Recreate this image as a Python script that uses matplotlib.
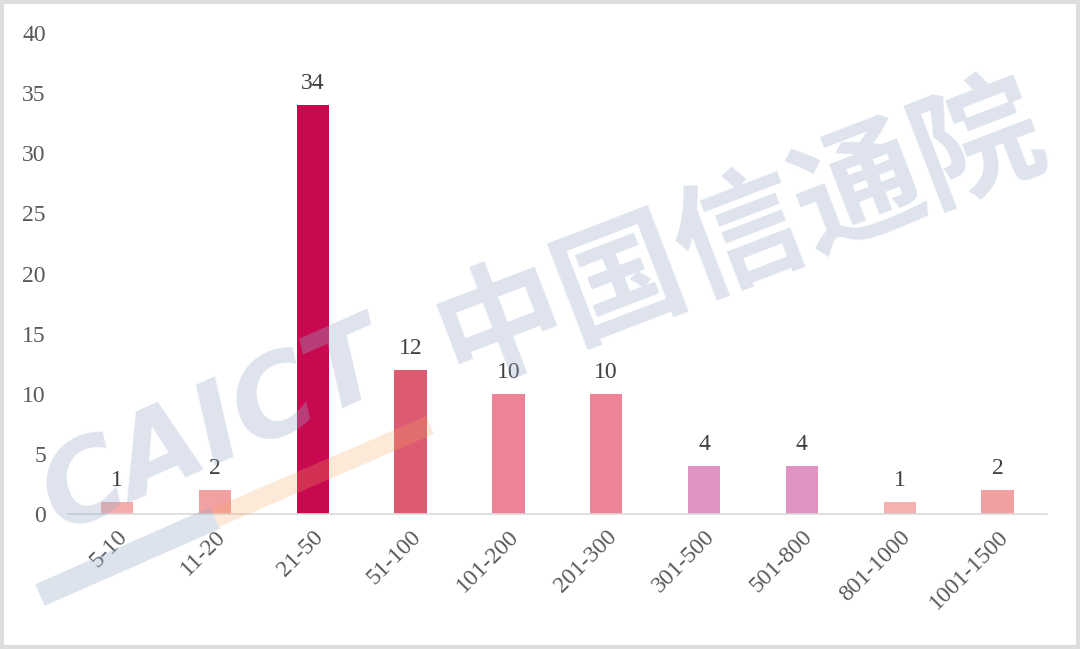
import matplotlib.pyplot as plt
from matplotlib.lines import Line2D
from matplotlib.patches import Rectangle

categories = ["5-10", "11-20", "21-50", "51-100", "101-200", "201-300",
              "301-500", "501-800", "801-1000", "1001-1500"]
counts = [1, 2, 34, 12, 10, 10, 4, 4, 1, 2]
bar_colors = ["#F4ABAA", "#F2A0A2", "#C8094F", "#DC5A72", "#EE8297",
              "#EE8297", "#DE94C0", "#DE94C0", "#F5B0B0", "#F0A0A0"]
yticks = [0, 5, 10, 15, 20, 25, 30, 35, 40]

plt.rcParams["font.family"] = ["Liberation Serif", "DejaVu Serif"]

fig = plt.figure(figsize=(10.8, 6.49), dpi=100)
ax = fig.add_axes([0.063, 0.208, 0.906, 0.741])

x = list(range(len(categories)))
ax.bar(x, counts, width=0.33, color=bar_colors, zorder=2)
for xi, v in zip(x, counts):
    ax.annotate(str(v), (xi, v), xytext=(0, 8), textcoords="offset points",
                ha="center", va="bottom", fontsize=17, color="#404040")

ax.set_xlim(-0.5, len(categories) - 0.5)
ax.set_ylim(0, 40)
ax.set_yticks(yticks)
ax.set_xticks(x)
ax.set_xticklabels(categories, rotation=45, ha="right", rotation_mode="anchor")
ax.tick_params(axis="both", length=0, labelsize=17, labelcolor="#595959")
ax.tick_params(axis="x", pad=9)
ax.tick_params(axis="y", pad=16)
for s in ["top", "right", "left"]:
    ax.spines[s].set_visible(False)
ax.spines["bottom"].set_color("#D9D9D9")
ax.spines["bottom"].set_linewidth(1.2)

# watermark
wm = "#9AABC8"
fig.lines.append(Line2D([40 / 1080, 215 / 1080], [1 - 595 / 649, 1 - 518 / 649],
                        transform=fig.transFigure, color=wm, alpha=0.33,
                        linewidth=17, solid_capstyle="butt", zorder=10))
fig.lines.append(Line2D([215 / 1080, 430 / 1080], [1 - 518 / 649, 1 - 425 / 649],
                        transform=fig.transFigure, color="#F7A860", alpha=0.25,
                        linewidth=14, solid_capstyle="butt", zorder=10))
fig.text(215 / 1080, 1 - 430 / 649, "CAICT", fontsize=80, fontweight="bold",
         style="italic", family=["DejaVu Sans"], color=wm, alpha=0.33,
         rotation=24, ha="center", va="center", zorder=10)
fig.text(740 / 1080, 1 - 235 / 649, "中国信通院", fontsize=92, fontweight="bold",
         family=["Noto Sans CJK SC"], color=wm, alpha=0.33, rotation=21,
         ha="center", va="center", zorder=10)

# outer frame
fig.patches.append(Rectangle((0.002, 0.003), 0.996, 0.994, transform=fig.transFigure,
                             fill=False, edgecolor="#DDDDDD", linewidth=3))

fig.savefig("out.png", dpi=100)
